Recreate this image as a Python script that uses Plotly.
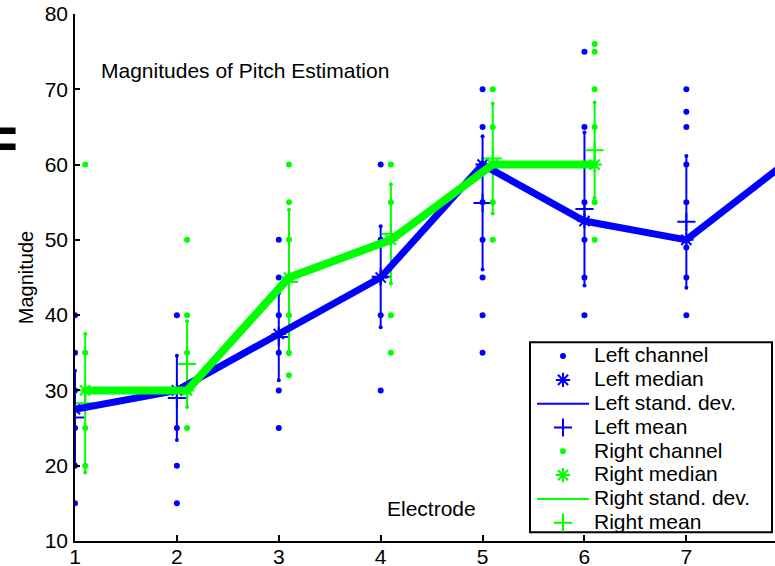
import plotly.graph_objects as go

# ---------------- data ----------------
ELECTRODES = [1, 2, 3, 4, 5, 6, 7]
LEFT_POINTS = [
    [40, 35, 30, 25, 20, 15],
    [40, 30, 25, 20, 15],
    [50, 45, 40, 35, 30, 25],
    [60, 50, 45, 40, 30],
    [70, 65, 60, 55, 50, 45, 40, 35],
    [75, 65, 55, 50, 45, 40],
    [70, 67, 65, 60, 55, 49, 45, 40],
]
LEFT_MEDIAN_X = [1, 2, 3, 4, 5, 6, 7, 8]
LEFT_MEDIAN = [27.5, 30, 37.5, 45, 60, 52.5, 50, 60.5]
LEFT_MEAN = [26.4, 29.0, 37.1, 45.1, 54.9, 54.1, 52.4]
LEFT_STD = [6.2, 5.6, 5.75, 6.7, 8.85, 10.15, 8.75]

RIGHT_ELECTRODES = [1, 2, 3, 4, 5, 6]
RIGHT_POINTS = [
    [60, 35, 30, 25, 20],
    [50, 40, 35, 30, 25],
    [60, 55, 50, 45, 40, 35, 32],
    [60, 55, 50, 40, 35],
    [70, 65, 60, 55, 50],
    [76, 75, 70, 65, 60, 55, 50],
]
RIGHT_MEDIAN = [30, 30, 45, 50, 60, 60]
RIGHT_MEAN = [28.3, 33.5, 44.4, 50.8, 60.8, 61.9]
RIGHT_STD = [9.2, 5.7, 9.6, 6.6, 7.3, 6.35]

RIGHT_OFFSET = 0.1
X_TICKS = [1, 2, 3, 4, 5, 6, 7]
Y_TICKS = [10, 20, 30, 40, 50, 60, 70, 80]

BLUE = "rgb(0,0,255)"
GREEN = "rgb(0,255,0)"
FONT = "Liberation Sans, Arial, Helvetica, sans-serif"


def leg(name):
    return '<span style="font-size:21px">' + name + "</span>"


def flatten(xs, groups, off=0.0):
    fx, fy = [], []
    for x, g in zip(xs, groups):
        for v in g:
            fx.append(x + off)
            fy.append(v)
    return fx, fy


def std_segments(xs, mean, std, off=0.0):
    sx, sy, ex, ey = [], [], [], []
    for x, m, s in zip(xs, mean, std):
        sx += [x + off, x + off, None]
        sy += [m - s, m + s, None]
        ex += [x + off, x + off]
        ey += [m - s, m + s]
    return sx, sy, ex, ey


fig = go.Figure()


def add_series(xs, points, mx, med, mean, std, color, label, off):
    px_, py_ = flatten(xs, points, off)
    fig.add_trace(go.Scatter(x=px_, y=py_, mode="markers", name=leg(label + " channel"),
                             marker=dict(color=color, size=6)))
    fig.add_trace(go.Scatter(x=[v + off for v in mx], y=med, mode="markers",
                             name=leg(label + " median"),
                             marker=dict(color=color, size=12, symbol="asterisk-open",
                                         line=dict(color=color, width=2))))
    sx, sy, ex, ey = std_segments(xs, mean, std, off)
    fig.add_trace(go.Scatter(x=sx, y=sy, mode="lines", name=leg(label + " stand. dev."),
                             line=dict(color=color, width=2)))
    fig.add_trace(go.Scatter(x=ex, y=ey, mode="markers", showlegend=False,
                             marker=dict(color=color, size=4)))
    fig.add_trace(go.Scatter(x=[v + off for v in xs], y=mean, mode="markers",
                             name=leg(label + " mean"),
                             marker=dict(color=color, size=13, symbol="cross-thin-open",
                                         line=dict(color=color, width=2))))


add_series(ELECTRODES, LEFT_POINTS, LEFT_MEDIAN_X, LEFT_MEDIAN, LEFT_MEAN, LEFT_STD,
           BLUE, "Left", 0.0)
add_series(RIGHT_ELECTRODES, RIGHT_POINTS, RIGHT_ELECTRODES, RIGHT_MEDIAN, RIGHT_MEAN,
           RIGHT_STD, GREEN, "Right", RIGHT_OFFSET)

# thick median lines
fig.add_trace(go.Scatter(x=LEFT_MEDIAN_X, y=LEFT_MEDIAN, mode="lines", showlegend=False,
                         line=dict(color=BLUE, width=7)))
fig.add_trace(go.Scatter(x=[v + RIGHT_OFFSET for v in RIGHT_ELECTRODES], y=RIGHT_MEDIAN,
                         mode="lines", showlegend=False, line=dict(color=GREEN, width=8)))

W, H = 775, 566
ML, MR, MT, MB = 75, 0, 14, 25.3
PW = W - ML - MR
PH = H - MT - MB


def px(xp):
    return (xp - ML) / PW


def py(yp):
    return (H - MB - yp) / PH


ITEMW = 52
fig.update_layout(
    width=W, height=H,
    margin=dict(l=ML, r=MR, t=MT, b=MB, pad=0),
    paper_bgcolor="white", plot_bgcolor="white",
    font=dict(family=FONT, color="black", size=21),
    showlegend=True,
    legend=dict(x=px(594 - ITEMW - 10), y=py(339), xanchor="left", yanchor="top",
                bgcolor="rgba(0,0,0,0)", borderwidth=0,
                font=dict(family=FONT, size=16, color="black"),
                itemwidth=ITEMW, tracegroupgap=0, traceorder="normal"),
    xaxis=dict(range=[1, 7.87], tickvals=X_TICKS, showgrid=False, zeroline=False,
               automargin=False,
               showline=True, linecolor="black", linewidth=1.5,
               ticks="inside", ticklen=6, tickwidth=1.5, tickcolor="black",
               ticklabelstandoff=-4,
               tickfont=dict(family=FONT, size=21, color="black")),
    yaxis=dict(range=[10, 80], tickvals=Y_TICKS, showgrid=False, zeroline=False,
               automargin=False,
               showline=True, linecolor="black", linewidth=1.5,
               ticks="inside", ticklen=5, tickwidth=1.5, tickcolor="black",
               ticklabelstandoff=1,
               tickfont=dict(family=FONT, size=21, color="black"),
               title=dict(text="Magnitude", font=dict(family=FONT, size=20, color="black"),
                          standoff=6)),
    shapes=[
        dict(type="rect", xref="paper", yref="paper", layer="above",
             x0=px(530), x1=px(772), y0=py(532), y1=py(342),
             line=dict(color="black", width=2), fillcolor="rgba(0,0,0,0)"),
    ],
    annotations=[
        dict(text="Magnitudes of Pitch Estimation", xref="paper", yref="paper",
             x=px(245), y=py(70), xanchor="center", yanchor="middle",
             showarrow=False, font=dict(family=FONT, size=21, color="black")),
        dict(text="Electrode", xref="paper", yref="paper",
             x=px(431.5), y=py(508), xanchor="center", yanchor="middle",
             showarrow=False, font=dict(family=FONT, size=21, color="black")),
        dict(text="<b>=</b>", xref="paper", yref="paper",
             x=px(20), y=py(137), xanchor="right", yanchor="middle",
             showarrow=False, font=dict(family=FONT, size=60, color="black")),
    ],
)

fig.write_html("out.html")
